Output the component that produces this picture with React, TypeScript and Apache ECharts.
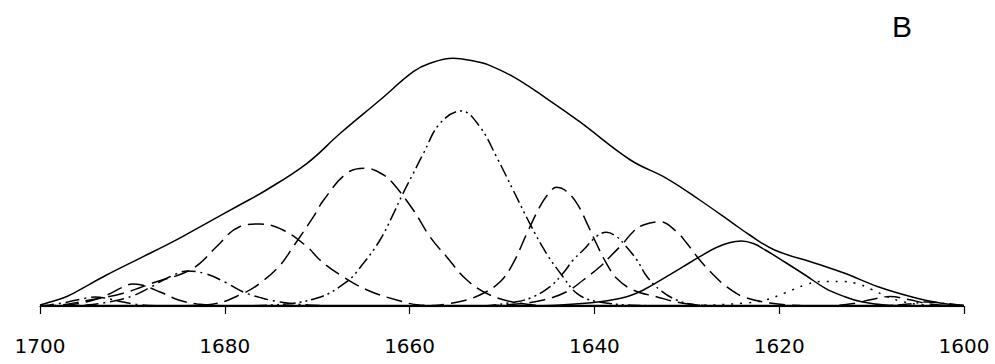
import React, { useEffect, useRef } from "react";
import * as echarts from "echarts";

// x: wavenumber (cm-1), y: intensity (arbitrary units)
const xTicks = [1700, 1680, 1660, 1640, 1620, 1600];
const panelLabel = "B";

const envelope: [number, number][] = [
  [1700, 1], [1698.9, 4], [1697.5, 8], [1696.4, 12.7], [1692.8, 31], [1689.2, 47.7],
  [1685.6, 64.3], [1682.0, 82.7], [1678.4, 101], [1675.5, 116], [1671.1, 142.7],
  [1667.5, 172.7], [1663.2, 206], [1659.6, 234.3], [1657.8, 242.7], [1655.3, 247.7],
  [1652.7, 244.3], [1651.7, 242], [1648.8, 229.3], [1645.2, 207.7], [1641.6, 184.3],
  [1636.1, 146], [1632.2, 127.7], [1628.6, 106], [1625.0, 82.7], [1623.2, 71],
  [1620.5, 56], [1616.1, 42.7], [1612.9, 32.7], [1609.3, 19.3], [1605.7, 9.3],
  [1602.6, 3], [1600, 0.5],
];

// dash-dot-dot, main band ~1654
const band1654: [number, number][] = [
  [1680, 0], [1675, 1], [1670, 8], [1666.8, 24.3], [1665.0, 42.7], [1663.2, 66],
  [1661.9, 89.3], [1660.8, 111], [1659.6, 132.7], [1658.5, 152.7], [1656.7, 182.7],
  [1654.4, 195], [1652.4, 179.3], [1650.6, 149.3], [1648.8, 116], [1647.0, 82.7],
  [1645.2, 52.7], [1643.4, 29.3], [1641.9, 12.7], [1640, 5], [1635, 0.5], [1630, 0],
];

// long dash ~1665
const band1665: [number, number][] = [
  [1685, 0], [1681.2, 2], [1678.0, 12.7], [1676.2, 22.7], [1674.0, 41], [1672.6, 59.3],
  [1670.4, 89.3], [1669.3, 106], [1666.8, 132.7], [1664.8, 137.7], [1662.8, 131],
  [1661.8, 122.7], [1659.6, 96], [1657.8, 69.3], [1656.0, 49.3], [1653.8, 26],
  [1651.3, 11], [1648.1, 2.7], [1645, 0],
];

// long dash ~1676
const band1676: [number, number][] = [
  [1700, 0], [1697.8, 1], [1694.6, 6], [1691.0, 12.7], [1687.4, 24.3], [1684.5, 32.7],
  [1682.7, 42.7], [1680.9, 59.3], [1678.4, 79.3], [1676.2, 82], [1673.7, 76],
  [1671.1, 59.3], [1669.7, 46], [1667.5, 31], [1664.6, 16], [1661.4, 6], [1658.9, 1], [1655, 0],
];

// dash-dot ~1684
const band1684: [number, number][] = [
  [1698, 0], [1695, 1], [1692, 5], [1690, 10], [1688, 19], [1686, 29], [1684, 35],
  [1682, 32], [1680, 24], [1678, 14], [1676, 8], [1674, 4], [1671, 1], [1668, 0],
];

// long dash ~1690
const band1690: [number, number][] = [
  [1700, 0], [1697, 1], [1695, 4], [1693, 10], [1691, 19], [1690, 22], [1689, 21],
  [1687, 14], [1685, 6], [1683, 2], [1680, 0],
];

// dash-dot ~1694
const band1694: [number, number][] = [
  [1700, 0], [1699, 1], [1697, 4], [1695, 8], [1694, 9], [1693, 8], [1691, 4],
  [1689, 1], [1686, 0],
];

// long dash ~1644
const band1644: [number, number][] = [
  [1658, 0], [1654.9, 3.7], [1652.4, 11], [1650.2, 24.3], [1648.8, 42.7], [1647.3, 72.7],
  [1645.9, 99.3], [1644.9, 113], [1644.1, 118.7], [1643.2, 116], [1641.9, 102.7], [1640.8, 82.7],
  [1639.8, 62.7], [1638.7, 42.7], [1637.6, 27.7], [1635.8, 16], [1633.3, 9.3],
  [1630.4, 2.7], [1627, 0],
];

// dash-dot-dot ~1639
const band1639: [number, number][] = [
  [1652, 0], [1648.4, 4.3], [1646.6, 9.3], [1644.8, 19.3], [1643.4, 32.7], [1642.3, 46],
  [1641.2, 56], [1639.8, 69.3], [1638.7, 73.7], [1637.6, 69.3], [1636.7, 61],
  [1635.4, 46], [1634.3, 29.3], [1632.9, 16], [1631.1, 6], [1628.9, 1], [1626, 0],
];

// long dash ~1633
const band1633: [number, number][] = [
  [1652, 0], [1648.4, 2], [1645.5, 6], [1643.0, 14.3], [1641.2, 26], [1639.4, 39.3],
  [1638.3, 49.3], [1636.9, 62.7], [1635.8, 74.3], [1634.7, 81], [1632.9, 84.3],
  [1631.1, 74.3], [1630.0, 62.7], [1628.6, 46], [1627.1, 31], [1625.7, 19.3],
  [1623.9, 9.3], [1621.0, 3], [1617.7, 0.5], [1614, 0],
];

// solid ~1624
const band1624: [number, number][] = [
  [1648, 0], [1643.7, 1], [1639.4, 4.3], [1636.5, 9.3], [1634.7, 16], [1632.2, 29.3],
  [1630.4, 39.3], [1628.6, 49.3], [1626.8, 58.5], [1625.4, 63.3], [1624.1, 65],
  [1622.8, 62.5], [1621.5, 56], [1619.4, 44], [1617.2, 31], [1615.0, 17.7], [1612.9, 9.3],
  [1611.1, 4.3], [1608.5, 1], [1605, 0],
];

// dotted ~1614
const band1614: [number, number][] = [
  [1632, 0], [1628.6, 0.5], [1623.7, 3], [1621.5, 6], [1619.4, 13], [1617.2, 21],
  [1615.4, 24.5], [1613.4, 24.5], [1611.6, 22.5], [1610.1, 17], [1608.3, 9.3],
  [1606.6, 4.3], [1604.4, 1], [1602, 0],
];

// long dash ~1608
const band1608: [number, number][] = [
  [1616, 0], [1614, 0.5], [1612, 2.5], [1610, 6.5], [1608, 9.5], [1606, 6.5],
  [1604, 2.5], [1602, 0.5], [1600, 0],
];

// dash-dot ~1604
const band1604: [number, number][] = [
  [1610, 0], [1608, 0.5], [1606, 2], [1604, 4], [1602, 2.5], [1600, 0.5],
];

const baseline: [number, number][] = [[1700, 0], [1600, 0]];

const DASH = [16, 7];
const DASH_DOT = [14, 5, 2, 5];
const DASH_DOT_DOT = [13, 4, 2, 4, 2, 4];
const DOT = [2, 7];

export default function App() {
  const ref = useRef<HTMLDivElement>(null);
  useEffect(() => {
    if (!ref.current) return;
    const chart = echarts.init(ref.current, null, { renderer: "svg" });
    const mk = (name: string, data: [number, number][], type: any, width = 1.5) => ({
      name,
      type: "line",
      data,
      smooth: 0.4,
      showSymbol: false,
      symbol: "none",
      silent: true,
      lineStyle: { color: "#000", width, type },
      z: 3,
    });
    chart.setOption({
      animation: false,
      backgroundColor: "#fff",
      grid: { left: 40, right: 31, top: 6, bottom: 58 },
      xAxis: {
        type: "value",
        min: 1600,
        max: 1700,
        interval: 20,
        inverse: true,
        offset: 10,
        splitLine: { show: false },
        axisLine: { show: true, lineStyle: { color: "#000", width: 1.2 } },
        axisTick: { show: true, length: 8, inside: false, lineStyle: { color: "#000", width: 1.2 } },
        axisLabel: {
          color: "#000",
          fontFamily: "DejaVu Sans",
          fontSize: 20,
          lineHeight: 20,
          margin: 20,
          formatter: (v: number) => (xTicks.includes(v) ? String(v) : ""),
        },
      },
      yAxis: {
        type: "value",
        min: 0,
        max: 300,
        show: false,
        splitLine: { show: false },
      },
      graphic: [
        {
          type: "text",
          left: 892,
          top: 11,
          style: {
            text: panelLabel,
            fill: "#000",
            font: "30px 'Liberation Sans', Arial, sans-serif",
          },
        },
      ],
      series: [
        mk("baseline", baseline, "solid", 2.5),
        mk("envelope", envelope, "solid", 1.5),
        mk("1654", band1654, DASH_DOT_DOT),
        mk("1665", band1665, DASH),
        mk("1676", band1676, DASH),
        mk("1684", band1684, DASH_DOT),
        mk("1690", band1690, DASH),
        mk("1694", band1694, DASH_DOT),
        mk("1644", band1644, DASH),
        mk("1639", band1639, DASH_DOT_DOT),
        mk("1633", band1633, DASH),
        mk("1624", band1624, "solid"),
        mk("1614", band1614, DOT),
        mk("1608", band1608, DASH),
        mk("1604", band1604, DASH_DOT),
      ],
    });
    return () => chart.dispose();
  }, []);
  return (
    <div
      ref={ref}
      style={{ position: "fixed", left: 0, top: 0, width: 995, height: 364, background: "#fff" }}
    />
  );
}
